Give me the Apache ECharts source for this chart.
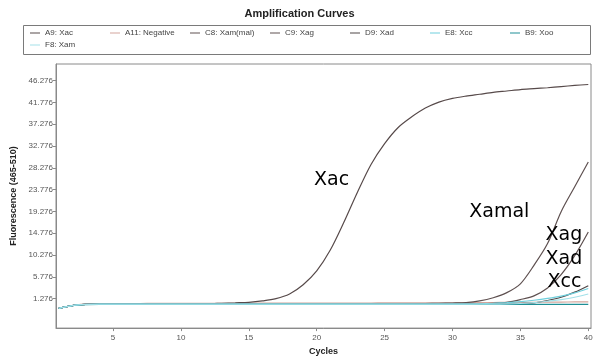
<!DOCTYPE html>
<html>
<head>
<meta charset="utf-8">
<script src="https://cdn.jsdelivr.net/npm/echarts@6/dist/echarts.min.js"></script>
<style>
  html, body { margin: 0; padding: 0; background: #fff; }
  #chart { width: 599px; height: 361px; }
</style>
</head>
<body>
<div id="chart"></div>
<script>
// Cycle numbers (x) and fluorescence readings (y) for each well
const cycles = [1,2,3,4,5,6,7,8,9,10,11,12,13,14,15,16,17,18,19,20,
                21,22,23,24,25,26,27,28,29,30,31,32,33,34,35,36,37,38,39,40];

const wellA9 = [-0.73,-0.16,0.08,0.13,0.13,0.13,0.13,0.13,0.17,0.17,
                0.22,0.22,0.32,0.41,0.51,0.80,1.27,2.23,4.14,7.00,
                11.30,17.03,23.24,28.97,33.27,36.61,38.81,40.62,41.86,42.62,
                43.10,43.48,43.87,44.15,44.44,44.63,44.82,45.06,45.30,45.49];
const wellA11 = [-0.73,-0.16,0.22,0.27,0.27,0.27,0.27,0.32,0.32,0.32,
                 0.32,0.32,0.32,0.32,0.32,0.37,0.37,0.37,0.37,0.37,
                 0.37,0.37,0.37,0.37,0.41,0.41,0.41,0.41,0.41,0.41,
                 0.46,0.46,0.46,0.51,0.51,0.51,0.56,0.56,0.60,0.60];
const wellC8 = [-0.73,-0.16,0.08,0.13,0.13,0.13,0.13,0.13,0.13,0.13,
                0.13,0.13,0.13,0.13,0.13,0.13,0.13,0.13,0.13,0.13,
                0.13,0.13,0.13,0.13,0.13,0.17,0.22,0.27,0.32,0.37,
                0.46,0.80,1.46,2.51,4.33,8.15,12.64,19.23,24.38,29.50];
const wellC9 = [-0.73,-0.16,0.08,0.13,0.13,0.13,0.13,0.13,0.13,0.13,
                0.13,0.13,0.13,0.13,0.13,0.13,0.13,0.13,0.13,0.13,
                0.13,0.13,0.13,0.13,0.13,0.13,0.13,0.13,0.13,0.13,
                0.17,0.22,0.32,0.51,1.08,1.85,3.47,6.24,10.15,15.03];
const wellD9 = [-0.73,-0.16,0.08,0.13,0.13,0.13,0.13,0.13,0.13,0.13,
                0.13,0.13,0.13,0.13,0.13,0.13,0.13,0.13,0.13,0.13,
                0.13,0.13,0.13,0.13,0.13,0.13,0.13,0.13,0.13,0.13,
                0.13,0.13,0.13,0.17,0.27,0.41,0.89,1.56,2.61,3.95];
const wellE8 = [-0.73,-0.16,0.08,0.13,0.13,0.13,0.13,0.13,0.13,0.13,
                0.13,0.13,0.13,0.13,0.13,0.13,0.13,0.13,0.13,0.13,
                0.13,0.13,0.13,0.13,0.13,0.13,0.13,0.13,0.13,0.13,
                0.13,0.22,0.32,0.46,0.65,0.94,1.32,1.80,2.47,3.37];
const wellB9 = [-0.73,-0.16,0.03,0.08,0.08,0.08,0.08,0.08,0.08,0.08,
                0.08,0.08,0.08,0.08,0.08,0.08,0.08,0.08,0.08,0.08,
                0.08,0.08,0.08,0.08,0.08,0.08,0.08,0.08,0.08,0.08,
                0.08,0.08,0.08,0.08,0.08,0.08,0.08,0.08,0.08,0.08];
const wellF8 = [-0.73,-0.16,0.08,0.13,0.13,0.13,0.13,0.13,0.13,0.13,
                0.13,0.13,0.13,0.13,0.13,0.13,0.13,0.13,0.13,0.13,
                0.13,0.13,0.13,0.13,0.13,0.13,0.13,0.13,0.13,0.13,
                0.13,0.13,0.13,0.17,0.27,0.46,0.75,1.08,1.56,2.23];

// Legend names, in legend order
const legendNames = ['A9: Xac', 'A11: Negative', 'C8: Xam(mal)', 'C9: Xag',
                     'D9: Xad', 'E8: Xcc', 'B9: Xoo', 'F8: Xam'];

// Axis tick labels
const xTicks = [5, 10, 15, 20, 25, 30, 35, 40];
const yTicks = [1.276, 5.776, 10.276, 14.776, 19.276, 23.776,
                28.276, 32.776, 37.276, 41.776, 46.276];

// Curve annotations (text and the data point they sit on)
const annotationTexts = ['Xac', 'Xamal', 'Xag', 'Xad', 'Xcc'];
const annotationAt = [[21.1, 25.8], [33.45, 19.1], [38.2, 14.45], [38.2, 9.4], [38.25, 4.7]];

const wellValues = [wellA9, wellA11, wellC8, wellC9, wellD9, wellE8, wellB9, wellF8];
const wellColors = ['#574a4a', '#d3a59c', '#5e5050', '#5e5050', '#4f4747', '#6fcfdc', '#1e8f96', '#a4e1e9'];
const wellZ = [3, 2, 3, 3, 3, 5, 4, 5];

const chart = echarts.init(document.getElementById('chart'));

const series = legendNames.map((name, i) => ({
  name: name,
  type: 'line',
  data: cycles.map((c, k) => [c, wellValues[i][k]]),
  smooth: 0.3,
  showSymbol: false,
  symbol: 'none',
  z: wellZ[i],
  lineStyle: { width: 1.2, color: wellColors[i] },
  itemStyle: { color: wellColors[i] },
  emphasis: { disabled: true }
}));

// Attach the annotation texts as invisible mark points on the Xac series
series[0].markPoint = {
  symbol: 'circle',
  symbolSize: 0,
  silent: true,
  label: {
    show: true,
    position: 'inside',
    color: '#000',
    fontFamily: 'DejaVu Sans',
    fontSize: 19,
    formatter: p => p.name
  },
  data: annotationTexts.map((t, i) => ({ name: t, coord: annotationAt[i] }))
};

const axisColor = '#8a8a8a';
const labelFont = { fontFamily: 'Liberation Sans', fontSize: 8, color: '#555' };

chart.setOption({
  animation: false,
  backgroundColor: '#fff',
  title: {
    text: 'Amplification Curves',
    left: 'center',
    top: 3,
    textStyle: { fontFamily: 'Liberation Sans', fontSize: 11, fontWeight: 'bold', color: '#222' }
  },
  legend: {
    data: legendNames,
    left: 30,
    top: 28,
    width: 560,
    orient: 'horizontal',
    itemGap: 2,
    itemWidth: 10,
    itemHeight: 1,
    icon: 'rect',
    padding: 0,
    textStyle: { fontFamily: 'Liberation Sans', fontSize: 8, color: '#444', width: 63, lineHeight: 10, overflow: 'truncate' }
  },
  graphic: [{
    type: 'rect',
    left: 21, top: 23,
    shape: { width: 567, height: 29 },
    style: { fill: 'none', stroke: '#7a7a7a', lineWidth: 1 },
    silent: true
  }],
  grid: {
    left: 56, top: 64, width: 535, height: 269,
    show: true, borderColor: axisColor, borderWidth: 1, backgroundColor: '#fff'
  },
  xAxis: {
    type: 'value',
    min: 0.8, max: 40.2,
    name: 'Cycles',
    nameLocation: 'middle',
    nameGap: 17,
    nameTextStyle: { fontFamily: 'Liberation Sans', fontSize: 9, fontWeight: 'bold', color: '#222' },
    axisLine: { onZero: false, lineStyle: { color: axisColor } },
    axisTick: { show: true, length: 3, customValues: xTicks, lineStyle: { color: axisColor } },
    axisLabel: Object.assign({ customValues: xTicks, margin: 6 }, labelFont),
    splitLine: { show: false }
  },
  yAxis: {
    type: 'value',
    min: -4.81, max: 49.72,
    name: 'Fluorescence (465-510)',
    nameLocation: 'middle',
    nameGap: 37,
    nameTextStyle: { fontFamily: 'Liberation Sans', fontSize: 9, fontWeight: 'bold', color: '#222' },
    axisLine: { show: true, onZero: false, lineStyle: { color: axisColor } },
    axisTick: { show: true, length: 3, customValues: yTicks, lineStyle: { color: axisColor } },
    axisLabel: Object.assign({ customValues: yTicks, margin: 3, formatter: v => v.toFixed(3) }, labelFont),
    splitLine: { show: false }
  },
  series: series
});
</script>
</body>
</html>
